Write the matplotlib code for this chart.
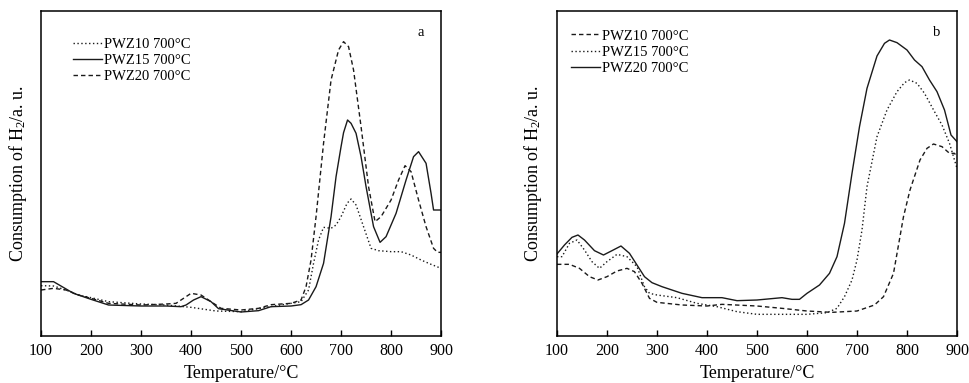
import matplotlib
matplotlib.use("Agg")
import matplotlib.pyplot as plt

plt.rcParams["font.family"] = ["Liberation Serif", "DejaVu Serif"]
plt.rcParams["mathtext.fontset"] = "custom"
plt.rcParams["mathtext.rm"] = "Liberation Serif"
plt.rcParams["mathtext.default"] = "regular"

# ---- panel a (arbitrary units) ----
a_pwz10_t = [100, 125, 150, 175, 200, 235, 300, 350, 400, 450, 500, 550, 600, 620, 635, 645,
             655, 665, 680, 690, 700, 712, 720, 730, 745, 760, 775, 800, 820, 840, 860, 880, 900]
a_pwz10_v = [151, 150, 138, 123, 115, 103, 96, 93, 86, 75, 73, 86, 98, 103, 138, 218,
             288, 326, 323, 333, 358, 398, 411, 393, 328, 263, 256, 253, 253, 243, 228, 215, 203]

a_pwz15_t = [100, 125, 165, 200, 235, 300, 350, 380, 390, 405, 420, 440, 455, 500, 535, 560, 600,
             620, 635, 650, 665, 680, 690, 700, 705, 713, 720, 730, 740, 750, 765, 778, 790, 810,
             830, 845, 855, 870, 880, 885, 900]
a_pwz15_v = [163, 163, 128, 110, 93, 90, 90, 88, 93, 108, 118, 103, 82, 72, 76, 88, 90,
             94, 108, 148, 218, 358, 478, 568, 610, 648, 638, 608, 538, 448, 328, 281, 298, 368,
             468, 538, 553, 518, 428, 378, 378]

a_pwz20_t = [100, 125, 150, 175, 200, 235, 300, 350, 370, 385, 400, 420, 440, 460, 500, 535, 560,
             600, 620, 630, 640, 650, 665, 680, 695, 705, 715, 725, 740, 755, 768, 780, 800, 815,
             828, 840, 855, 870, 885, 893, 900]
a_pwz20_v = [138, 143, 138, 123, 113, 98, 93, 96, 98, 113, 128, 123, 103, 83, 78, 83, 94,
             98, 108, 148, 228, 358, 578, 768, 858, 883, 868, 798, 628, 448, 343, 358, 408, 468,
             511, 493, 408, 328, 263, 251, 251]

# ---- panel b ----
b_pwz10_t = [100, 125, 145, 165, 182, 200, 220, 240, 255, 270, 285, 300, 350, 400, 430, 500, 550,
             600, 650, 700, 735, 753, 773, 793, 806, 826, 840, 853, 870, 885, 895, 900]
b_pwz10_v = [215, 215, 203, 178, 168, 178, 195, 203, 193, 158, 113, 101, 93, 90, 95, 90, 83,
             75, 71, 75, 93, 118, 188, 358, 438, 528, 563, 576, 568, 548, 548, 538]

b_pwz15_t = [100, 110, 125, 140, 155, 170, 185, 200, 220, 240, 260, 275, 285, 300, 340, 380, 420,
             460, 500, 550, 600, 640, 660, 675, 690, 700, 710, 720, 740, 760, 780, 795, 805, 820,
             835, 855, 870, 885, 893, 900]
b_pwz15_v = [238, 238, 278, 288, 258, 223, 203, 223, 245, 238, 208, 148, 128, 123, 115, 98, 88,
             73, 65, 65, 65, 70, 83, 118, 168, 228, 318, 448, 598, 678, 733, 760, 768, 758,
             728, 673, 633, 578, 538, 503]

b_pwz20_t = [100, 115, 130, 142, 155, 175, 193, 210, 228, 245, 260, 275, 290, 310, 350, 390, 430,
             460, 500, 550, 570, 585, 600, 625, 645, 660, 675, 690, 705, 720, 740, 755, 765, 780,
             800, 815, 830, 845, 860, 875, 888, 900]
b_pwz20_v = [246, 273, 296, 303, 288, 256, 243, 256, 270, 248, 213, 178, 160, 148, 128, 115, 115,
             106, 108, 115, 110, 110, 128, 153, 188, 238, 338, 488, 628, 743, 840, 878, 888, 880,
             858, 828, 808, 768, 733, 678, 603, 583]

legend_labels = ["PWZ10 700°C", "PWZ15 700°C", "PWZ20 700°C"]
x_ticks = [100, 200, 300, 400, 500, 600, 700, 800, 900]

DASHED = (0, (3.2, 2.2))
DOTTED = (0, (1, 1.8))
LINE_COLOR = "#1a1a1a"

fig = plt.figure(figsize=(9.7, 3.83), dpi=100)
ax_a = fig.add_axes([0.0423, 0.1227, 0.4124, 0.8486])
ax_b = fig.add_axes([0.5742, 0.1227, 0.4124, 0.8486])

ax_a.plot(a_pwz10_t, a_pwz10_v, color=LINE_COLOR, lw=1.0, ls=DOTTED, label=legend_labels[0])
ax_a.plot(a_pwz15_t, a_pwz15_v, color=LINE_COLOR, lw=1.0, ls="-", label=legend_labels[1])
ax_a.plot(a_pwz20_t, a_pwz20_v, color=LINE_COLOR, lw=1.0, ls=DASHED, label=legend_labels[2])

ax_b.plot(b_pwz10_t, b_pwz10_v, color=LINE_COLOR, lw=1.0, ls=DASHED, label=legend_labels[0])
ax_b.plot(b_pwz15_t, b_pwz15_v, color=LINE_COLOR, lw=1.0, ls=DOTTED, label=legend_labels[1])
ax_b.plot(b_pwz20_t, b_pwz20_v, color=LINE_COLOR, lw=1.0, ls="-", label=legend_labels[2])

for ax, tag, leg_anchor in [(ax_a, "a", (0.055, 0.95)), (ax_b, "b", (0.01, 0.975))]:
    ax.set_xlim(100, 900)
    ax.set_ylim(0, 975)
    ax.set_xticks(x_ticks)
    ax.tick_params(axis="x", direction="in", length=4, width=1, labelsize=11.5, pad=5)
    ax.set_yticks([])
    for s in ax.spines.values():
        s.set_linewidth(1.1)
    ax.set_xlabel("Temperature/°C", fontsize=13, labelpad=4)
    ax.set_ylabel("Consumption of H$_2$/a. u.", fontsize=13, labelpad=9)
    ax.text(0.95, 0.935, tag, transform=ax.transAxes, fontsize=10.5, ha="center", va="center")
    ax.legend(loc="upper left", bbox_to_anchor=leg_anchor, frameon=False, fontsize=10.5,
              handlelength=2.0, handletextpad=0.1, labelspacing=0.2, borderaxespad=0.3)

fig.savefig("out.png", dpi=100)
